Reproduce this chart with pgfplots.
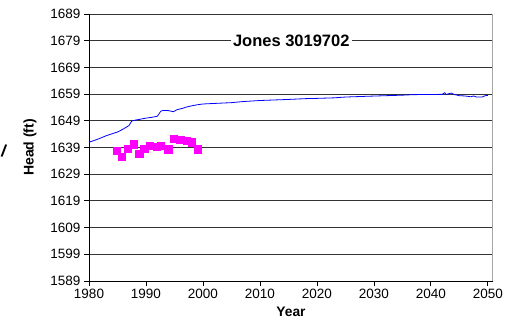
\documentclass[border=0pt]{standalone}
\usepackage{pgfplots}
\pgfplotsset{compat=1.18}
\usepackage{fontspec}
\setmainfont{Liberation Sans}

\definecolor{simblue}{RGB}{0,0,255}
\definecolor{obsmag}{RGB}{255,0,255}

\begin{document}
\begin{tikzpicture}[x=1pt,y=1pt]
\useasboundingbox (0,0) rectangle (520,327);
% stray mark at the left edge of the sheet
\node[font=\bfseries\fontsize{17}{18}\selectfont, inner sep=0pt, rotate=-10] at (4,176) {/};
\begin{axis}[
  at={(89pt,46pt)}, anchor=south west,
  scale only axis, width=404pt, height=267pt,
  xmin=1980, xmax=2050.9, ymin=1589, ymax=1689,
  xtick={1980,1990,...,2050},
  ytick={1589,1599,...,1689},
  /pgf/number format/assume math mode=true,
  /pgf/number format/1000 sep={},
  tick label style={font=\fontsize{13.5}{16}\selectfont},
  tick align=outside, tick style={black, line width=0.8pt},
  major tick length=5pt,
  axis x line*=bottom, axis y line*=left,
  axis line style={-, black, line width=0.9pt},
  ymajorgrids, grid style={black!80, line width=0.8pt},
  xlabel={Year}, ylabel={Head (ft)},
  every axis x label/.style={at={(rel axis cs:0.5,0)}, yshift=-30.7pt, anchor=center, font=\bfseries\fontsize{13.8}{16}\selectfont},
  every axis y label/.style={at={(rel axis cs:0,0.5)}, xshift=-59pt, rotate=90, anchor=center, font=\bfseries\fontsize{14}{16}\selectfont},
  clip=false,
  after end axis/.code={
    \draw[gray!70, line width=1pt] (rel axis cs:1,0) -- (rel axis cs:1,1);
    \node[fill=white, inner sep=2pt, font=\bfseries\fontsize{16.5}{18}\selectfont] at (axis cs:2015.5,1679) {Jones 3019702};
  },
]
% simulated head
\addplot[simblue, line width=0.8pt, no marks] coordinates {
(1980,1641.0) (1981,1641.7) (1982,1642.5) (1983,1643.4) (1984,1644.1)
(1985,1644.8) (1986,1645.9) (1987,1647.2) (1987.5,1648.9) (1988,1649.2)
(1989,1649.6) (1990,1650.0) (1991,1650.3) (1992,1650.7) (1992.6,1652.6)
(1993,1652.9) (1994,1652.8) (1994.8,1652.4) (1995.5,1653.2) (1996.5,1653.7)
(1997,1654.1) (1998,1654.6) (1999,1655.0) (2000,1655.3) (2002,1655.5)
(2005,1655.8) (2007,1656.2) (2010,1656.6) (2015,1657.0) (2018,1657.3)
(2020,1657.4) (2023,1657.6) (2025,1657.9) (2029,1658.2) (2035,1658.6)
(2037,1658.8) (2042,1658.9) (2042.4,1659.5) (2042.7,1658.9) (2043.6,1659.4)
(2044,1658.9) (2045,1658.4) (2046,1658.3) (2047,1658.0) (2047.5,1658.3)
(2048,1657.9) (2049,1657.9) (2049.5,1658.4) (2050,1658.5)
};
% observed head
\addplot[only marks, mark=square*, mark size=3.6pt, mark options={fill=obsmag, draw=obsmag}] coordinates {
(1984.9,1637.8) (1985.7,1635.6) (1986.8,1638.7) (1987.8,1640.2) (1988.8,1636.6)
(1989.7,1638.7) (1990.7,1639.6) (1991.9,1639.3) (1992.6,1639.7) (1993.9,1638.4)
(1994.8,1642.4) (1996.0,1641.8) (1997.1,1641.5) (1998.0,1641.0) (1999.1,1638.4)
};
\end{axis}
\end{tikzpicture}
\end{document}
